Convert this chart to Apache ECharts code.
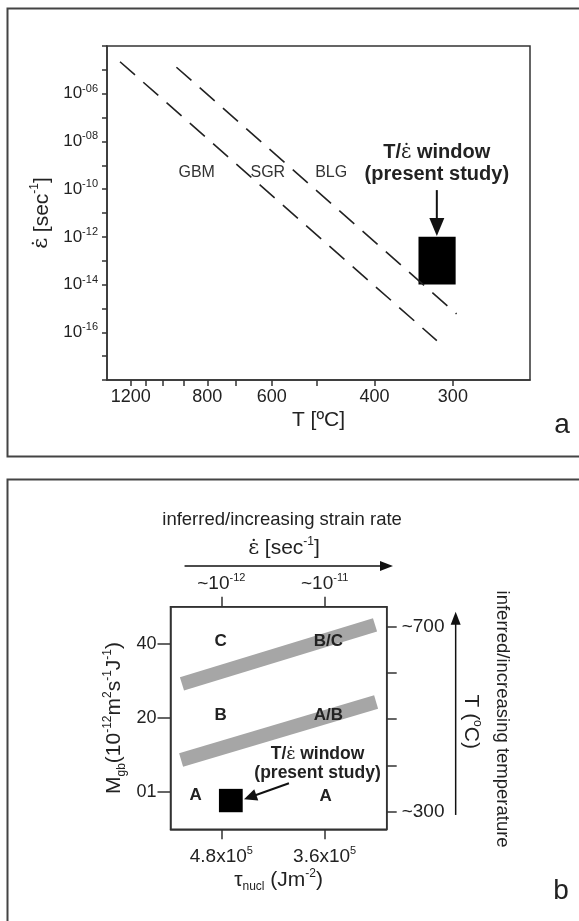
<!DOCTYPE html>
<html><head><meta charset="utf-8">
<script src="https://cdn.jsdelivr.net/npm/echarts@6/dist/echarts.min.js"></script>
<style>html,body{margin:0;padding:0;background:#fff}#c{width:579px;height:921px}</style>
</head><body><div id="c"></div>
<script>
// ---------- Panel a data ----------
const aTempTicks = [1200, 1100, 1000, 900, 800, 700, 600, 500, 400, 300];   // °C
const aTempLabels = [1200, 800, 600, 400, 300];
const aRateLabelExps = [-6, -8, -10, -12, -14, -16];                          // log10(strain rate)
const boundary1T = [1282, 318];
const boundary1LogRate = [-4.66, -16.35];
const boundary2T = [932, 296];
const boundary2LogRate = [-4.89, -15.23];
const regimeNames = ['GBM', 'SGR', 'BLG'];
const regimeT = [842, 610, 472];
const regimeLogRate = [-9.3, -9.3, -9.3];
const windowAT = [340, 297];
const windowALogRate = [-14, -12];
const windowALabelT = [318];
const windowALabelLogRate = [-8.93];
const arrowAT = [318, 318];
const arrowALogRate = [-10.04, -11.96];

// ---------- Panel b data ----------
const bTickPos = [23.5, 71.3];
const bTauMant = ['4.8', '3.6'];
const bTauExp = ['5', '5'];
const bRateExp = ['-12', '-11'];
const bMobTickPos = [0, 20, 40];
const bMobLabels = ['01', '20', '40'];
const bTempTicks = [300, 400, 500, 600, 700];
const bTempLabels = [300, 700];
const bandUpperX = [5.3, 94.6];
const bandUpperY = [29.2, 45.1];
const bandLowerX = [4.9, 95.1];
const bandLowerY = [8.7, 24.3];
const fieldNames = ['C', 'B/C', 'B', 'A/B', 'A', 'A'];
const fieldX = [23.2, 73.0, 23.2, 73.0, 11.6, 71.7];
const fieldY = [40.8, 40.8, 20.6, 20.6, -0.75, -1.2];
const windowBX = [22.4, 33.4];
const windowBY = [-5.4, 0.9];
const windowBLabelX = [68.0];
const windowBLabelY = [7.6];
const arrowBX = [54.8, 34.0];
const arrowBY = [2.4, -1.9];
const rateArrowX = [6.5, 102.9];
const rateArrowY = [61.0, 61.0];
const tempArrowX = [131.9, 131.9];
const tempArrowT = [293, 732];
const rateTitleX = [51.6, 52.5];
const rateTitleY = [73.4, 65.7];
const tempTitleX = [138.8, 153.3];
const tempTitleY = [19.0, 19.7];

// ---------- helpers ----------
const FF = '"Liberation Sans", Arial, "DejaVu Sans", sans-serif';
const FE = '"DejaVu Serif", "Liberation Serif", serif';
const INK = '#222';
const invT = T => 1000 / (T + 273.15);
const nearestIdx = (arr, v) => { let b = 0; arr.forEach((a, i) => { if (Math.abs(a - v) < Math.abs(arr[b] - v)) b = i; }); return b; };
const axisLine = { show: true, onZero: false, lineStyle: { color: '#333', width: 1.5 } };
const tickStyle = { color: '#333', width: 1.5 };
const EPS = 'ε\u0307';

function arrowRender(headLen, headW, lw, color) {
  return function (params, api) {
    const p0 = api.coord([api.value(0), api.value(1)]);
    const p1 = api.coord([api.value(2), api.value(3)]);
    const dx = p1[0] - p0[0], dy = p1[1] - p0[1];
    const L = Math.hypot(dx, dy), ux = dx / L, uy = dy / L;
    const bx = p1[0] - ux * headLen, by = p1[1] - uy * headLen;
    const nx = -uy, ny = ux;
    return { type: 'group', children: [
      { type: 'line', shape: { x1: p0[0], y1: p0[1], x2: bx + ux, y2: by + uy }, style: { stroke: color, lineWidth: lw } },
      { type: 'polygon', shape: { points: [[p1[0], p1[1]], [bx + nx * headW / 2, by + ny * headW / 2], [bx - nx * headW / 2, by - ny * headW / 2]] }, style: { fill: color } }
    ] };
  };
}
function rectRender(color) {
  return function (params, api) {
    const a = api.coord([api.value(0), api.value(1)]);
    const b = api.coord([api.value(2), api.value(3)]);
    return { type: 'rect', shape: { x: Math.min(a[0], b[0]), y: Math.min(a[1], b[1]), width: Math.abs(b[0] - a[0]), height: Math.abs(b[1] - a[1]) }, style: { fill: color } };
  };
}
function textSeries(xi, yi, xs, ys, texts, style, rotation) {
  return {
    type: 'custom', xAxisIndex: xi, yAxisIndex: yi, clip: false, silent: true, z: 10,
    data: xs.map((x, i) => [x, ys[i]]),
    renderItem: function (params, api) {
      const p = api.coord([api.value(0), api.value(1)]);
      return { type: 'text', x: p[0], y: p[1], rotation: rotation || 0,
        style: Object.assign({ text: texts[params.dataIndex], fill: INK, fontFamily: FF, align: 'center', verticalAlign: 'middle' }, style) };
    }
  };
}

const supRich = (n, s) => ({ n: { fontSize: n, fontFamily: FF, color: INK, lineHeight: n + 4 }, s: { fontSize: s, fontFamily: FF, color: INK, verticalAlign: 'top' } });
const epsRichE = { e: { fontSize: 21, fontFamily: FE, color: INK, lineHeight: 26 }, t: { fontSize: 21, fontFamily: FF, color: INK, lineHeight: 26 }, s: { fontSize: 12, fontFamily: FF, color: INK, verticalAlign: 'top' } };
const epsRichZ = { e: { fontSize: 21, fontFamily: FE, fill: INK, lineHeight: 26 }, t: { fontSize: 21, fontFamily: FF, fill: INK, lineHeight: 26 }, s: { fontSize: 12, fontFamily: FF, fill: INK, verticalAlign: 'top' } };

const option = {
  backgroundColor: '#fff',
  animation: false,
  grid: [
    { left: 107, top: 46, width: 423, height: 334, show: true, borderColor: '#333', borderWidth: 1.5, backgroundColor: 'transparent' },
    { left: 170.5, top: 606.7, width: 216.2, height: 222.6, show: true, borderColor: '#333', borderWidth: 1.5, backgroundColor: 'transparent' }
  ],
  xAxis: [
    { gridIndex: 0, type: 'value', min: 0.6, max: 2.0, axisLine,
      axisTick: { show: true, customValues: aTempTicks.map(invT), length: 6, lineStyle: tickStyle },
      axisLabel: { customValues: aTempLabels.map(invT), formatter: v => String(Math.round((1000 / v - 273.15) / 100) * 100), margin: 8, fontSize: 18, fontFamily: FF, color: INK },
      splitLine: { show: false },
      name: 'T [ºC]', nameLocation: 'middle', nameGap: 30, nameTextStyle: { fontSize: 21, fontFamily: FF, color: INK } },
    { gridIndex: 1, type: 'value', min: 0, max: 100, position: 'bottom', axisLine,
      axisTick: { show: true, customValues: bTickPos, length: 10, lineStyle: tickStyle },
      axisLabel: { customValues: bTickPos, margin: 16,
        formatter: v => { const i = nearestIdx(bTickPos, v); return '{n|' + bTauMant[i] + 'x10}{s|' + bTauExp[i] + '}'; },
        rich: supRich(19, 11) },
      splitLine: { show: false },
      name: '{t|τ}{b|nucl}{t| (Jm}{s|-2}{t|)}', nameLocation: 'middle', nameGap: 38,
      nameTextStyle: { rich: { t: { fontSize: 21, fontFamily: FF, color: INK, lineHeight: 25 }, b: { fontSize: 12, fontFamily: FF, color: INK, verticalAlign: 'bottom' }, s: { fontSize: 12, fontFamily: FF, color: INK, verticalAlign: 'top' } } } },
    { gridIndex: 1, type: 'value', min: 0, max: 100, position: 'top', axisLine,
      axisTick: { show: true, customValues: bTickPos, length: 10, lineStyle: tickStyle },
      axisLabel: { customValues: bTickPos, margin: 11,
        formatter: v => { const i = nearestIdx(bTickPos, v); return '{n|~10}{s|' + bRateExp[i] + '}'; },
        rich: supRich(19, 11) },
      splitLine: { show: false } }
  ],
  yAxis: [
    { gridIndex: 0, type: 'value', min: -18, max: -4, interval: 1, axisLine,
      axisTick: { show: true, length: 5, lineStyle: tickStyle },
      axisLabel: { margin: 9, formatter: v => aRateLabelExps.includes(v) ? '{n|10}{s|-' + String(-v).padStart(2, '0') + '}' : '', rich: supRich(17, 11) },
      splitLine: { show: false },
      name: '{e|' + EPS + '}{t| [sec}{s|-1}{t|]}', nameLocation: 'middle', nameRotate: 90, nameGap: 52,
      nameTextStyle: { rich: epsRichE } },
    { gridIndex: 1, type: 'value', min: -10, max: 50, position: 'left', axisLine,
      axisTick: { show: true, customValues: bMobTickPos, length: 13, lineStyle: tickStyle },
      axisLabel: { customValues: bMobTickPos, margin: 14, formatter: v => bMobLabels[nearestIdx(bMobTickPos, v)], fontSize: 18, fontFamily: FF, color: INK },
      splitLine: { show: false },
      name: '{t|M}{b|gb}{t|(10}{s|-12}{t|m}{s|2}{t|s}{s|-1}{t|J}{s|-1}{t|)}', nameLocation: 'middle', nameRotate: 90, nameGap: 43,
      nameTextStyle: { rich: { t: { fontSize: 21, fontFamily: FF, color: INK, lineHeight: 26 }, b: { fontSize: 12, fontFamily: FF, color: INK, verticalAlign: 'bottom' }, s: { fontSize: 12, fontFamily: FF, color: INK, verticalAlign: 'top' } } } },
    { gridIndex: 1, type: 'value', min: 262, max: 743, position: 'right', axisLine,
      axisTick: { show: true, customValues: bTempTicks, length: 10, lineStyle: tickStyle },
      axisLabel: { customValues: bTempLabels, margin: 15, formatter: v => '~' + Math.round(v), fontSize: 19, fontFamily: FF, color: INK },
      splitLine: { show: false } }
  ],
  graphic: [
    { type: 'rect', shape: { x: 7.5, y: 8.5, width: 620, height: 448 }, style: { fill: 'none', stroke: '#444', lineWidth: 2 } },
    { type: 'rect', shape: { x: 7.5, y: 479.5, width: 620, height: 500 }, style: { fill: 'none', stroke: '#444', lineWidth: 2 } },
    { type: 'text', x: 562, y: 425, style: { text: 'a', fontSize: 28, fontFamily: FF, fill: INK, align: 'center', verticalAlign: 'middle' } },
    { type: 'text', x: 561, y: 891, style: { text: 'b', fontSize: 28, fontFamily: FF, fill: INK, align: 'center', verticalAlign: 'middle' } }
  ],
  series: [
    // Panel a boundaries
    { type: 'line', xAxisIndex: 0, yAxisIndex: 0, symbol: 'none', silent: true,
      data: boundary1T.map((T, i) => [invT(T), boundary1LogRate[i]]),
      lineStyle: { color: '#222', width: 1.6, type: [20, 11] } },
    { type: 'line', xAxisIndex: 0, yAxisIndex: 0, symbol: 'none', silent: true,
      data: boundary2T.map((T, i) => [invT(T), boundary2LogRate[i]]),
      lineStyle: { color: '#222', width: 1.6, type: [20, 11] } },
    textSeries(0, 0, regimeT.map(invT), regimeLogRate, regimeNames, { fontSize: 16, fill: '#333' }),
    textSeries(0, 0, windowALabelT.map(invT), windowALabelLogRate,
      ['{b|T/}{e|' + EPS + '}{b| window}\n{b|(present study)}'],
      { rich: { b: { fontSize: 20, fontWeight: 'bold', fontFamily: FF, fill: INK, lineHeight: 22 }, e: { fontSize: 20, fontFamily: FE, fill: INK, lineHeight: 22 } } }),
    { type: 'custom', xAxisIndex: 0, yAxisIndex: 0, clip: false, silent: true,
      data: [[invT(windowAT[0]), windowALogRate[0], invT(windowAT[1]), windowALogRate[1]]], renderItem: rectRender('#000') },
    { type: 'custom', xAxisIndex: 0, yAxisIndex: 0, clip: false, silent: true,
      data: [[invT(arrowAT[0]), arrowALogRate[0], invT(arrowAT[1]), arrowALogRate[1]]], renderItem: arrowRender(18, 15, 2, '#111') },
    // Panel b bands
    { type: 'line', xAxisIndex: 1, yAxisIndex: 1, symbol: 'none', silent: true, z: 1,
      data: bandUpperX.map((x, i) => [x, bandUpperY[i]]), lineStyle: { color: '#a6a6a6', width: 14, cap: 'butt' } },
    { type: 'line', xAxisIndex: 1, yAxisIndex: 1, symbol: 'none', silent: true, z: 1,
      data: bandLowerX.map((x, i) => [x, bandLowerY[i]]), lineStyle: { color: '#a6a6a6', width: 14, cap: 'butt' } },
    textSeries(1, 1, fieldX, fieldY, fieldNames, { fontSize: 17, fontWeight: 'bold' }),
    { type: 'custom', xAxisIndex: 1, yAxisIndex: 1, clip: false, silent: true,
      data: [[windowBX[0], windowBY[0], windowBX[1], windowBY[1]]], renderItem: rectRender('#000') },
    textSeries(1, 1, windowBLabelX, windowBLabelY, ['{b|T/}{e|' + EPS + '}{b| window}\n{b|(present study)}'],
      { rich: { b: { fontSize: 17.5, fontWeight: 'bold', fontFamily: FF, fill: INK, lineHeight: 19 }, e: { fontSize: 17.5, fontFamily: FE, fill: INK, lineHeight: 19 } } }),
    { type: 'custom', xAxisIndex: 1, yAxisIndex: 1, clip: false, silent: true,
      data: [[arrowBX[0], arrowBY[0], arrowBX[1], arrowBY[1]]], renderItem: arrowRender(13, 12, 2, '#111') },
    { type: 'custom', xAxisIndex: 1, yAxisIndex: 1, clip: false, silent: true,
      data: [[rateArrowX[0], rateArrowY[0], rateArrowX[1], rateArrowY[1]]], renderItem: arrowRender(13, 10, 1.5, '#111') },
    { type: 'custom', xAxisIndex: 1, yAxisIndex: 2, clip: false, silent: true,
      data: [[tempArrowX[0], tempArrowT[0], tempArrowX[1], tempArrowT[1]]], renderItem: arrowRender(13, 10, 1.5, '#111') },
    textSeries(1, 1, [rateTitleX[0]], [rateTitleY[0]], ['inferred/increasing strain rate'], { fontSize: 18.5 }),
    textSeries(1, 1, [rateTitleX[1]], [rateTitleY[1]], ['{e|' + EPS + '}{t| [sec}{s|-1}{t|]}'], { rich: epsRichZ }),
    textSeries(1, 1, [tempTitleX[0]], [tempTitleY[0]], ['{t|T (}{s|o}{t|C)}'],
      { rich: { t: { fontSize: 21, fontFamily: FF, fill: INK, lineHeight: 26 }, s: { fontSize: 12, fontFamily: FF, fill: INK, verticalAlign: 'top' } } }, -Math.PI / 2),
    textSeries(1, 1, [tempTitleX[1]], [tempTitleY[1]], ['inferred/increasing temperature'], { fontSize: 18.5 }, -Math.PI / 2)
  ]
};
const chart = echarts.init(document.getElementById('c'), null, { renderer: 'canvas' });
chart.setOption(option);
</script></body></html>
